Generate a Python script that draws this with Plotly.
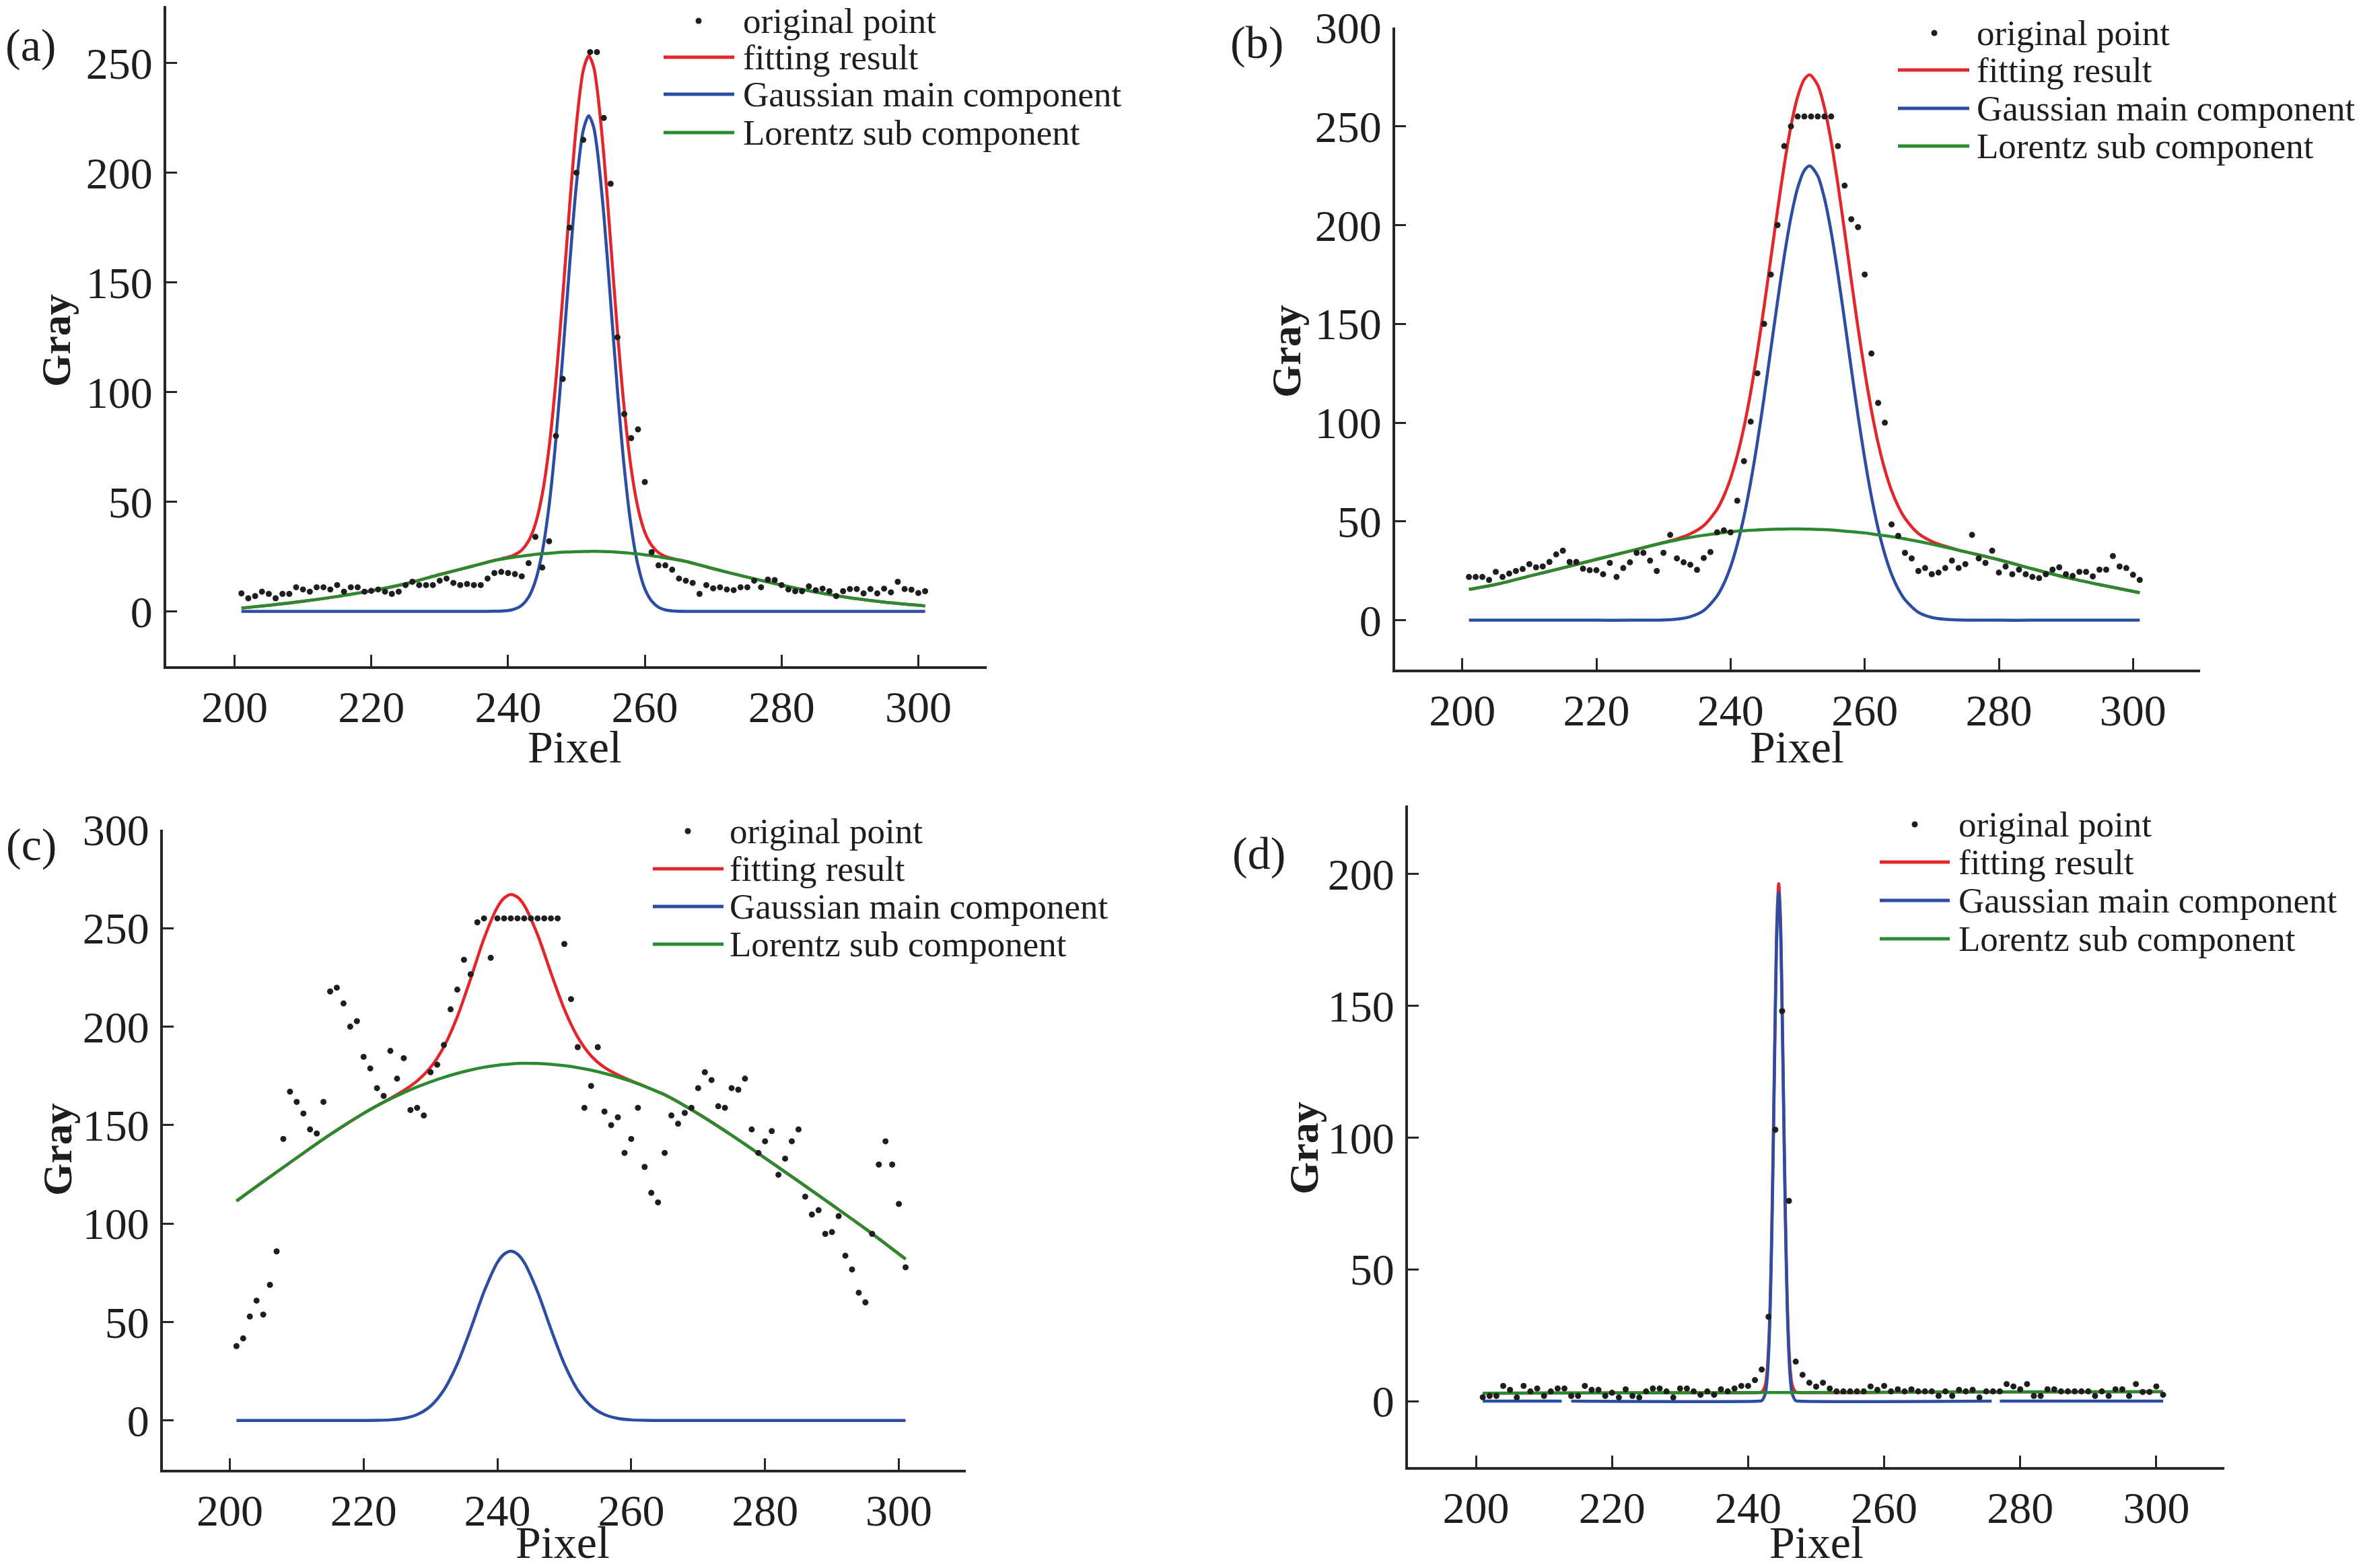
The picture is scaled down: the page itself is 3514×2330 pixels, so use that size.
import plotly.graph_objects as go

W, H = 3514, 2330

# ---------------- data ----------------
pixels = list(range(201, 302))

a_points = [8.2, 6, 7, 9, 8, 6, 8, 8, 11, 10, 9, 11, 11, 10, 12, 9, 11, 11, 9, 9.4,
            10, 9, 8, 9, 12, 13.5, 12, 12, 12, 14, 15, 13, 12, 12.5, 12, 12, 15, 17.5, 18, 17.5,
            17, 16, 22, 34, 20, 32, 80, 106, 175, 200, 215, 255, 255, 225, 195, 125, 90, 79, 83, 59,
            27, 21, 21, 19, 15, 14, 13, 8, 12, 10.5, 11, 10, 9.7, 11, 11, 14, 11, 14.5, 14.3, 12,
            10, 9.2, 9.2, 11.4, 9.7, 10.4, 9.2, 7, 9.2, 10.2, 10.2, 8.2, 10.2, 8.2, 10.4, 8.7, 13.5, 10.2, 9.9, 8.4,
            9.2]
a_curve_x = [201, 205, 210, 215, 220, 225, 230, 235, 238, 240, 241, 242, 243, 244, 245, 246, 247, 248,
             249, 250, 251, 251.8, 252.5, 253, 254, 255, 256, 257, 258, 259, 260, 261, 262, 263, 264,
             266, 270, 275, 280, 285, 290, 295, 301]
a_fit = [1.5, 2.8, 4.6, 6.8, 9.4, 12.6, 16.8, 20.8, 23.25, 24.7, 25.9, 28.0, 32.1, 39.9, 53.4, 74.8, 105.4,
         143.6, 184.8, 222.0, 246.7, 253.35, 248.4, 238.9, 208.3, 168.5, 127.6, 92.2, 65.3, 47.2, 36.1, 30.1,
         26.8, 25.1, 24.15, 22.8, 19.5, 15.6, 12.0, 8.8, 6.2, 4.2, 2.5]
a_gauss = [0, 0, 0, 0, 0, 0, 0, 0, 0.05, 0.4, 1.1, 2.8, 6.5, 13.9, 27.1, 48.3, 78.6, 116.6, 157.7, 194.8,
           219.4, 226, 221, 211.5, 181, 141.3, 100.6, 65.4, 38.8, 21, 10.3, 4.7, 1.9, 0.7, 0.25, 0, 0, 0, 0,
           0, 0, 0, 0]
a_lorentz = [1.5, 2.8, 4.6, 6.8, 9.4, 12.6, 16.8, 20.8, 23.2, 24.3, 24.8, 25.2, 25.6, 26.0, 26.3, 26.5, 26.8,
             27.0, 27.1, 27.2, 27.3, 27.35, 27.4, 27.4, 27.3, 27.2, 27.0, 26.8, 26.5, 26.2, 25.8, 25.4, 24.9,
             24.4, 23.9, 22.8, 19.5, 15.6, 12.0, 8.8, 6.2, 4.2, 2.5]

b_points = [21.9, 21.9, 21.9, 20.4, 24.5, 21.9, 23.6, 24.9, 25.9, 28.4, 26.8, 27.2, 29.5, 33.3, 35.2, 29.5,
            29.5, 26.1, 25.3, 25.3, 23.3, 29.0, 21.9, 26.4, 29.3, 34.1, 34.1, 30.2, 24.9, 34.1, 43.2, 31.3,
            29.3, 28.1, 25.5, 31.5, 34.5, 44.5, 45.5, 44.5, 60.5, 80.5, 100.5, 125, 150, 175, 200, 240, 250,
            255, 255, 255, 255, 255, 255, 240, 220, 203, 199, 175, 135, 110, 100, 48.5, 42.7, 34.1, 31.3,
            24.9, 26.4, 23.3, 24.1, 26.4, 30.2, 26.4, 28.4, 43.2, 31.3, 29.0, 35.2, 24.1, 27.2, 23.3, 25.6,
            23.3, 21.9, 21.3, 23.3, 25.6, 26.8, 23.3, 22.4, 24.5, 24.5, 22.2, 25.6, 25.6, 32.5, 27.2, 26.4,
            23.0, 20.4]
b_curve_x = [201, 205, 210, 215, 220, 225, 230, 232, 234, 236, 238, 239, 240, 241, 242, 243, 244, 245, 246,
             247, 248, 249, 250, 251, 251.8, 253, 254, 255, 256, 257, 258, 259, 260, 261, 262, 263, 264, 265,
             266, 268, 270, 272, 274, 280, 285, 290, 295, 301]
b_fit = [15.6, 18.1, 22.3, 26.5, 30.8, 35.0, 39.35, 41.15, 43.7, 47.9, 56.2, 62.9, 71.8, 83.4, 97.8, 115.4,
         135.9, 158.8, 183.1, 207.4, 230.35, 250.1, 265.0, 273.85, 276.1, 270.85, 259.35, 242.2, 220.7, 196.8,
         172.1, 148.1, 126.0, 106.3, 89.6, 76.2, 65.6, 57.6, 51.6, 43.9, 39.9, 37.43, 35.5, 30.6, 26.0, 21.7,
         18.0, 13.9]
b_gauss = [0, 0, 0, 0, 0, 0, 0.15, 0.55, 1.8, 4.9, 12.3, 18.5, 27.0, 38.3, 52.5, 69.9, 90.2, 112.9, 137.1,
           161.3, 184.2, 203.9, 218.8, 227.7, 230, 224.9, 213.5, 196.5, 175.3, 151.7, 127.3, 103.6, 81.8, 62.6,
           46.4, 33.4, 23.3, 15.8, 10.4, 4.0, 1.4, 0.43, 0.1, 0, 0, 0, 0, 0]
b_lorentz = [15.6, 18.1, 22.3, 26.5, 30.8, 35.0, 39.2, 40.6, 41.9, 43.0, 43.9, 44.4, 44.8, 45.1, 45.3, 45.5,
             45.7, 45.9, 46.0, 46.1, 46.15, 46.2, 46.2, 46.15, 46.1, 45.95, 45.85, 45.7, 45.4, 45.1, 44.8, 44.5,
             44.2, 43.7, 43.2, 42.8, 42.3, 41.8, 41.2, 39.9, 38.5, 37.0, 35.4, 30.6, 26.0, 21.7, 18.0, 13.9]

c_points = [37.8, 41.7, 52.8, 60.9, 53.8, 68.9, 85.9, 143.0, 167.0, 161.8, 155.9, 147.8, 145.8, 161.8, 217.9,
            219.8, 211.8, 200.0, 202.8, 184.7, 178.8, 168.8, 164.8, 187.7, 173.6, 184.0, 157.7, 158.8, 154.9,
            176.9, 180.7, 190.7, 208.8, 218.8, 234.0, 226.6, 253, 255, 235, 255, 255, 255, 255, 255, 255, 255,
            255, 255, 255, 242, 214, 189.6, 158.8, 169.9, 189.6, 156.9, 150, 154, 135.9, 143, 158.8, 128.8,
            115.6, 110.8, 135.9, 154.9, 150.7, 156.2, 158.8, 168.8, 176.9, 172.9, 159.6, 158.8, 168.8, 168.0,
            173.6, 147.8, 135.9, 141.8, 147.0, 124.8, 133.0, 141.8, 147.8, 113.7, 104.6, 106.8, 94.8, 95.7,
            103.8, 83.7, 76.7, 64.9, 60.0, 94.8, 130.0, 141.8, 130.0, 110.0, 77.8]
c_curve_x = [201, 205, 210, 215, 220, 222, 224, 226, 228, 230, 232, 234, 236, 238, 240, 241, 242, 243, 244,
             246, 248, 250, 252, 254, 256, 258, 260, 262, 264, 265, 270, 275, 280, 285, 290, 295, 301]
c_fit = [111.5, 121.3, 133.4, 145.2, 156.0, 159.9, 163.6, 167.6, 172.4, 179.3, 189.8, 205.0, 224.4, 244.8,
         260.7, 265.3, 267.1, 265.8, 261.7, 246.7, 227.3, 208.9, 194.7, 185.2, 179.3, 175.5, 172.5, 169.8,
         166.9, 165.4, 155.8, 144.9, 133.3, 121.5, 109.5, 97.4, 82.0]
c_gauss = [0, 0, 0, 0, 0, 0.09, 0.33, 1.07, 3.0, 7.3, 15.5, 28.7, 46.4, 65.4, 80.3, 84.5, 86, 84.5, 80.3,
           65.4, 46.4, 28.7, 15.5, 7.3, 3.0, 1.07, 0.33, 0.09, 0, 0, 0, 0, 0, 0, 0, 0, 0]
c_lorentz = [111.5, 121.3, 133.4, 145.2, 156.0, 159.8, 163.3, 166.5, 169.4, 172.0, 174.3, 176.3, 178.0, 179.4,
             180.4, 180.8, 181.1, 181.3, 181.4, 181.3, 180.9, 180.2, 179.2, 177.9, 176.3, 174.4, 172.2, 169.7,
             166.9, 165.4, 155.8, 144.9, 133.3, 121.5, 109.5, 97.4, 82.0]

d_points = [1.5, 2.0, 2.0, 5.8, 4.3, 1.4, 5.8, 3.7, 4.8, 2.0, 3.7, 4.8, 4.8, 2.0, 2.0, 5.8, 4.3, 4.3, 2.0,
            3.2, 1.4, 4.5, 2.0, 1.4, 3.7, 4.8, 4.8, 3.7, 1.4, 4.8, 4.8, 3.7, 2.4, 3.7, 2.4, 4.5, 3.7, 4.8,
            5.8, 5.8, 8, 12, 32, 103, 148, 76, 15, 10, 7, 5.5, 7, 4.8, 3.7, 3.7, 3.7, 3.7, 3.7, 5.6, 4.3, 5.8,
            3.7, 4.5, 3.7, 4.5, 3.7, 3.7, 3.7, 2.0, 3.7, 2.0, 4.3, 3.7, 4.3, 1.4, 3.7, 3.7, 3.7, 6.5, 5.6,
            4.5, 6.5, 2.0, 2.0, 4.5, 4.5, 3.7, 3.7, 3.7, 3.7, 3.7, 2.0, 3.7, 2.0, 4.5, 4.5, 2.0, 6.5, 3.5,
            3.5, 5.6, 2.4]
d_curve_x = [201, 222, 241.5, 242, 242.5, 242.75, 243, 243.25, 243.5, 243.75, 244, 244.25, 244.5, 244.75,
             245, 245.25, 245.5, 245.75, 246, 246.25, 246.5, 247, 247.5, 270, 301]
d_fit = [3.0, 3.15, 3.3, 3.5, 5.9, 10.3, 20.3, 38.9, 68.8, 108.3, 150.6, 183.7, 196.3, 183.7, 150.6, 108.3,
         68.8, 38.9, 20.3, 10.3, 5.9, 3.5, 3.3, 3.45, 3.6]
d_lorentz = [3.0, 3.15, 3.3, 3.3, 3.3, 3.3, 3.3, 3.3, 3.3, 3.3, 3.3, 3.3, 3.3, 3.3, 3.3, 3.3, 3.3, 3.3, 3.3,
             3.3, 3.3, 3.3, 3.3, 3.45, 3.6]
d_gauss_x = [201, 212.6, None, 214, 241.5, 242, 242.5, 242.75, 243, 243.25, 243.5, 243.75, 244, 244.25,
             244.5, 244.75, 245, 245.25, 245.5, 245.75, 246, 246.25, 246.5, 247, 247.5, 275.8, None, 277, 301]
d_gauss = [0, 0, None, 0, 0, 0.2, 2.6, 7.0, 17.0, 35.6, 65.5, 105.0, 147.3, 180.4, 193.0, 180.4, 147.3,
           105.0, 65.5, 35.6, 17.0, 7.0, 2.6, 0.2, 0, 0, None, 0, 0]

x_ticks = [200, 220, 240, 260, 280, 300]
y_ticks_a = [0, 50, 100, 150, 200, 250]
y_ticks_b = [0, 50, 100, 150, 200, 250, 300]
y_ticks_c = [0, 50, 100, 150, 200, 250, 300]
y_ticks_d = [0, 50, 100, 150, 200]

legend_labels = ["original point", "fitting result", "Gaussian main component", "Lorentz sub component"]
panel_labels = ["(a)", "(b)", "(c)", "(d)"]
x_title = "Pixel"
y_title = "Gray"

# ---------------- style ----------------
FONT = "Liberation Serif, Times New Roman, serif"
INK = "#1e1e1e"
AXC = "#262626"
RED = "#e3262b"
BLUE = "#2b4da3"
GREEN = "#2a8a30"

def fx(p):
    return p / W

def fy(p):
    return 1 - p / H

panels = [
    dict(pts=a_points, cx=a_curve_x, fit=a_fit, gx=a_curve_x, g=a_gauss, lor=a_lorentz,
         dom_x=(247, 1466), dom_y=(9, 990), yr=(-25, 276), yt=y_ticks_a,
         leg=dict(dot=1038, l0=986, l1=1091, tx=1102, ys=(31, 85, 140, 197)),
         lab=(45, 67), gray=(83, 506), pix=(854, 1110)),
    dict(pts=b_points, cx=b_curve_x, fit=b_fit, gx=b_curve_x, g=b_gauss, lor=b_lorentz,
         dom_x=(2073, 3269), dom_y=(41, 995), yr=(-25, 300), yt=y_ticks_b,
         leg=dict(dot=2874, l0=2820, l1=2926, tx=2935, ys=(49, 104, 161, 217)),
         lab=(1867, 63), gray=(1911, 522), pix=(2670, 1110)),
    dict(pts=c_points, cx=c_curve_x, fit=c_fit, gx=c_curve_x, g=c_gauss, lor=c_lorentz,
         dom_x=(242, 1435), dom_y=(1233, 2184), yr=(-25, 300), yt=y_ticks_c,
         leg=dict(dot=1022, l0=970, l1=1075, tx=1082, ys=(1235, 1291, 1347, 1403)),
         lab=(46, 1255), gray=(85, 1708), pix=(836, 2292)),
    dict(pts=d_points, cx=d_curve_x, fit=d_fit, gx=d_gauss_x, g=d_gauss, lor=d_lorentz,
         dom_x=(2092, 3305), dom_y=(1197, 2180), yr=(-25, 226), yt=y_ticks_d,
         leg=dict(dot=2845, l0=2793, l1=2897, tx=2908, ys=(1225, 1281, 1338, 1395)),
         lab=(1870, 1268), gray=(1937, 1706), pix=(2699, 2292)),
]

fig = go.Figure()
layout = dict(width=W, height=H, margin=dict(l=0, r=0, t=0, b=0, pad=0, autoexpand=False),
              paper_bgcolor="white", plot_bgcolor="white", showlegend=False,
              font=dict(family=FONT, color=INK))
annotations = []
shapes = []

for i, p in enumerate(panels):
    n = "" if i == 0 else str(i + 1)
    xa, ya = "x" + n, "y" + n
    line_kw = dict(shape="spline", smoothing=0.8, width=4.5)
    fig.add_trace(go.Scatter(x=p["cx"], y=p["fit"], mode="lines", xaxis=xa, yaxis=ya,
                             line=dict(color=RED, **line_kw), name=legend_labels[1]))
    fig.add_trace(go.Scatter(x=p["gx"], y=p["g"], mode="lines", xaxis=xa, yaxis=ya, connectgaps=False,
                             line=dict(color=BLUE, **line_kw), name=legend_labels[2]))
    fig.add_trace(go.Scatter(x=p["cx"], y=p["lor"], mode="lines", xaxis=xa, yaxis=ya,
                             line=dict(color=GREEN, **line_kw), name=legend_labels[3]))
    fig.add_trace(go.Scatter(x=pixels, y=p["pts"], mode="markers", xaxis=xa, yaxis=ya,
                             marker=dict(color=INK, size=9, line=dict(width=0)), name=legend_labels[0]))

    layout["xaxis" + n] = dict(
        domain=[fx(p["dom_x"][0]), fx(p["dom_x"][1])], anchor=ya, range=[190, 310],
        tickvals=x_ticks, ticks="inside", ticklen=17, tickwidth=3, tickcolor=AXC,
        showline=True, linewidth=4, linecolor=AXC, showgrid=False, zeroline=False, automargin=False,
        ticklabeloverflow="allow",
        tickfont=dict(family=FONT, size=66, color=INK), ticklabelstandoff=0)
    layout["yaxis" + n] = dict(
        domain=[fy(p["dom_y"][1]), fy(p["dom_y"][0])], anchor=xa, range=list(p["yr"]),
        tickvals=p["yt"], ticks="inside", ticklen=16, tickwidth=3, tickcolor=AXC,
        showline=True, linewidth=4, linecolor=AXC, showgrid=False, zeroline=False, automargin=False,
        ticklabeloverflow="allow",
        tickfont=dict(family=FONT, size=66, color=INK), ticklabelstandoff=3)

    # panel label and axis titles
    annotations.append(dict(text=panel_labels[i], x=fx(p["lab"][0]), y=fy(p["lab"][1]), xref="paper",
                            yref="paper", showarrow=False, xanchor="center", yanchor="middle",
                            font=dict(family=FONT, size=68, color=INK)))
    annotations.append(dict(text="<b>" + y_title + "</b>", x=fx(p["gray"][0]), y=fy(p["gray"][1]),
                            xref="paper", yref="paper", showarrow=False, textangle=-90,
                            xanchor="center", yanchor="middle",
                            font=dict(family=FONT, size=62, color=INK)))
    annotations.append(dict(text=x_title, x=fx(p["pix"][0]), y=fy(p["pix"][1]), xref="paper", yref="paper",
                            showarrow=False, xanchor="center", yanchor="middle",
                            font=dict(family=FONT, size=68, color=INK)))

    # legend (drawn manually to match long line samples)
    lg = p["leg"]
    ys = lg["ys"]
    r = 4.5
    shapes.append(dict(type="circle", xref="paper", yref="paper",
                       x0=fx(lg["dot"] - r), x1=fx(lg["dot"] + r), y0=fy(ys[0] + r), y1=fy(ys[0] - r),
                       fillcolor=INK, line=dict(width=0)))
    for yy, col in zip(ys[1:], [RED, BLUE, GREEN]):
        shapes.append(dict(type="line", xref="paper", yref="paper", x0=fx(lg["l0"]), x1=fx(lg["l1"]),
                           y0=fy(yy), y1=fy(yy), line=dict(color=col, width=5)))
    for yy, txt in zip(ys, legend_labels):
        annotations.append(dict(text=txt, x=fx(lg["tx"]), y=fy(yy), xref="paper", yref="paper",
                                showarrow=False, xanchor="left", yanchor="middle",
                                font=dict(family=FONT, size=53, color=INK)))

layout["annotations"] = annotations
layout["shapes"] = shapes
fig.update_layout(**layout)
# place the figure flush with the window corner (no default page margin), no toolbar
fig.write_html("out.html", config={"displayModeBar": False},
               post_script="document.body.style.margin='0';document.body.style.overflow='hidden';")
